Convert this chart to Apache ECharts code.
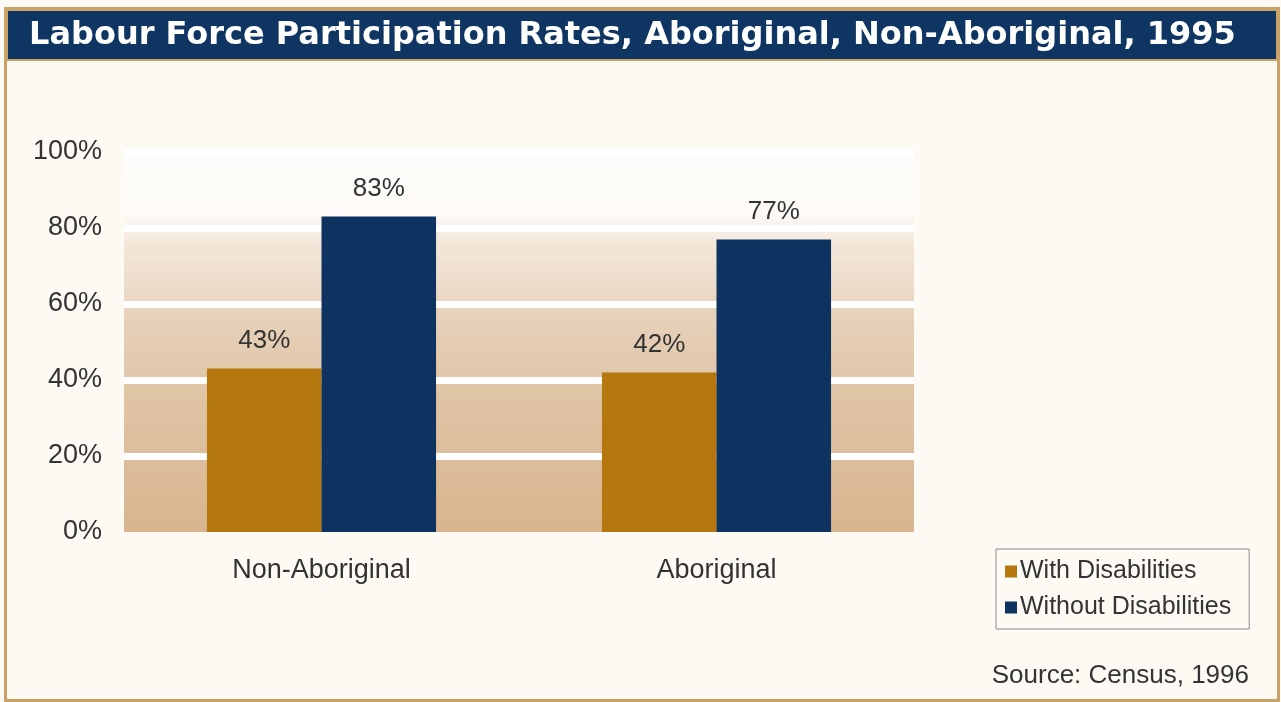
<!DOCTYPE html>
<html>
<head>
<meta charset="utf-8">
<title>Labour Force Participation Rates, Aboriginal, Non-Aboriginal, 1995</title>
<script src="https://cdn.jsdelivr.net/npm/echarts@6/dist/echarts.min.js"></script>
<style>
  html, body { margin: 0; padding: 0; background: #fdfaf5; }
  #chart { width: 1281px; height: 702px; }
</style>
</head>
<body>
<div id="chart"></div>
<script>
// Participation rates (%) by group
const categories = ['Non-Aboriginal', 'Aboriginal'];
const withDisabilities = [43, 42];
const withoutDisabilities = [83, 77];
const seriesNames = ['With Disabilities', 'Without Disabilities'];
const yTicks = [0, 20, 40, 60, 80, 100];

const titleText = 'Labour Force Participation Rates, Aboriginal, Non-Aboriginal, 1995';
const sourceText = 'Source: Census, 1996';

const GOLD = '#b5780f';
const NAVY = '#0e3361';
const TEXT = '#333333';
const FONT = '"Liberation Sans", Arial, sans-serif';

const chart = echarts.init(document.getElementById('chart'), null, { renderer: 'canvas' });

const barLabel = {
  show: true,
  position: 'top',
  distance: 15,
  fontSize: 26,
  fontFamily: FONT,
  color: TEXT,
  formatter: p => p.value + '%'
};

chart.setOption({
  backgroundColor: '#fdfaf5',
  animation: false,
  graphic: [
    // page frame
    { type: 'rect', z: -10, shape: { x: 5.5, y: 8.5, width: 1273, height: 692 },
      style: { fill: '#fdf9f3', stroke: '#c9a267', lineWidth: 3 } },
    // title band
    { type: 'rect', z: -9, shape: { x: 7, y: 10, width: 1270, height: 50 },
      style: { fill: '#0f3562', stroke: '#c9a267', lineWidth: 2 } },
    { type: 'text', z: 10, x: 29, y: 36,
      style: { text: titleText, fill: '#ffffff', font: 'bold 32px "DejaVu Sans", sans-serif',
               textVerticalAlign: 'middle', textAlign: 'left' } },
    { type: 'text', z: 10, x: 1249, y: 676,
      style: { text: sourceText, fill: TEXT, font: '26px ' + FONT,
               textVerticalAlign: 'middle', textAlign: 'right' } }
  ],
  legend: {
    data: seriesNames,
    orient: 'vertical',
    left: 996,
    top: 549,
    padding: [10, 18, 9, 9],
    itemGap: 11,
    itemWidth: 12,
    itemHeight: 12,
    icon: 'rect',
    borderColor: '#8a8a8a',
    borderWidth: 1,
    textStyle: { fontSize: 25, fontFamily: FONT, color: TEXT, padding: [0, 0, 0, -2] }
  },
  grid: {
    left: 124,
    right: 367,
    top: 152,
    bottom: 170,
    show: true,
    borderWidth: 0,
    backgroundColor: new echarts.graphic.LinearGradient(0, 0, 0, 1, [
      { offset: 0.00, color: '#fefdfb' },
      { offset: 0.16, color: '#fdfaf7' },
      { offset: 0.24, color: '#f3e7da' },
      { offset: 0.38, color: '#ebd9c6' },
      { offset: 0.42, color: '#e7d2bc' },
      { offset: 0.60, color: '#e1c6a9' },
      { offset: 0.80, color: '#dcbd9b' },
      { offset: 1.00, color: '#d8b58e' }
    ])
  },
  xAxis: {
    type: 'category',
    data: categories,
    axisLine: { show: false },
    axisTick: { show: false },
    axisLabel: { fontSize: 27, fontFamily: FONT, color: TEXT, margin: 25 }
  },
  yAxis: {
    type: 'value',
    min: yTicks[0],
    max: yTicks[yTicks.length - 1],
    interval: 20,
    axisLine: { show: false },
    axisTick: { show: false },
    axisLabel: { fontSize: 27, fontFamily: FONT, color: TEXT, margin: 22, formatter: v => v + '%' },
    splitLine: { show: true, showMinLine: false, lineStyle: { color: '#ffffff', width: 7 } }
  },
  series: [
    { name: seriesNames[0], type: 'bar', data: withDisabilities, barGap: '0%', barCategoryGap: '42%',
      itemStyle: { color: GOLD }, label: barLabel },
    { name: seriesNames[1], type: 'bar', data: withoutDisabilities,
      itemStyle: { color: NAVY }, label: barLabel }
  ]
});
</script>
</body>
</html>
